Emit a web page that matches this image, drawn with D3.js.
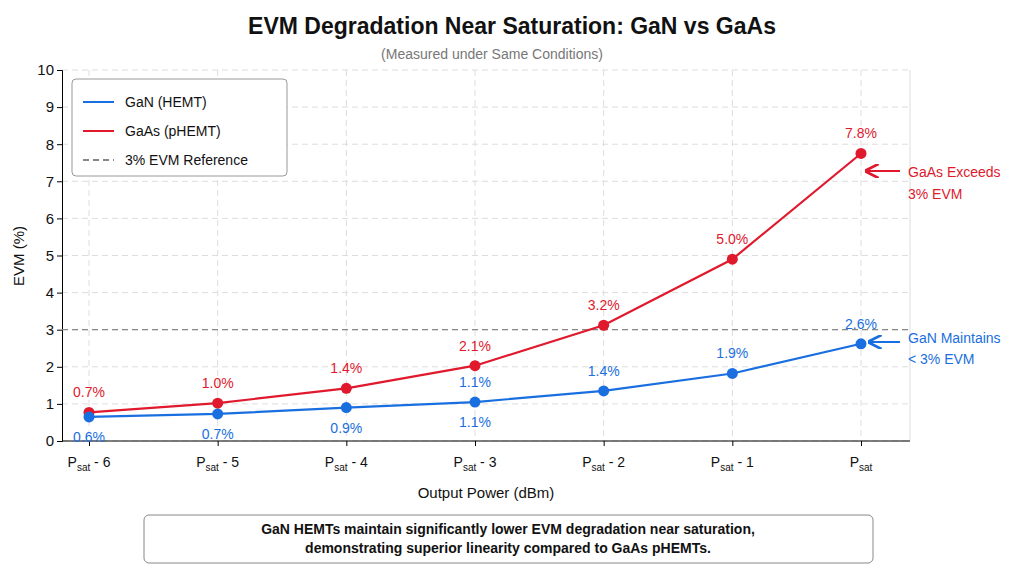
<!DOCTYPE html><html><head><meta charset="utf-8"><script src="https://cdn.jsdelivr.net/npm/d3@7"></script>
<style>body{margin:0;background:#fff;font-family:"Liberation Sans","DejaVu Sans",sans-serif}</style></head><body><svg id="c" width="1024" height="576" font-family="Liberation Sans, DejaVu Sans, sans-serif"></svg><script>
const categories=["-6","-5","-4","-3","-2","-1",""];
const ganValues=[0.65,0.73,0.9,1.05,1.35,1.82,2.62];
const gaasValues=[0.77,1.02,1.42,2.03,3.12,4.9,7.75];
const ganLabels=["0.6%","0.7%","0.9%","1.1%","1.4%","1.9%","2.6%"];
const gaasLabels=["0.7%","1.0%","1.4%","2.1%","3.2%","5.0%","7.8%"];
const yTicks=[0,1,2,3,4,5,6,7,8,9,10];
const blue="#1a6fe0",red="#e0192d";
const svg=d3.select("#c");
const L=62,R=910,T=70,B=441;
const x=d3.scaleLinear().domain([0,6]).range([89,861]);
const y=d3.scaleLinear().domain([0,10]).range([B,T]);
svg.append("text").attr("x",512).attr("y",34).attr("text-anchor","middle").attr("font-size",23).attr("font-weight","bold").attr("fill","#111").text("EVM Degradation Near Saturation: GaN vs GaAs");
svg.append("text").attr("x",492).attr("y",59).attr("text-anchor","middle").attr("font-size",14).attr("fill","#777").text("(Measured under Same Conditions)");
const g=svg.append("g");
yTicks.forEach(t=>g.append("line").attr("x1",L).attr("x2",R).attr("y1",y(t)).attr("y2",y(t)).attr("stroke","#ddd").attr("stroke-dasharray","6,4"));
categories.forEach((c,i)=>g.append("line").attr("x1",x(i)).attr("x2",x(i)).attr("y1",T).attr("y2",B).attr("stroke","#ddd").attr("stroke-dasharray","6,4"));
g.append("line").attr("x1",R).attr("x2",R).attr("y1",T).attr("y2",B).attr("stroke","#ddd");
const ya=g.append("g").attr("transform",`translate(${L},0)`).call(d3.axisLeft(y).tickValues(yTicks).tickSize(5));
ya.selectAll("text").attr("font-size",15).attr("fill","#111").attr("font-family","Liberation Sans, sans-serif");
const xa=g.append("g").attr("transform",`translate(0,${B})`).call(d3.axisBottom(x).tickValues(d3.range(7)).tickSize(5).tickFormat(""));
xa.select(".domain").attr("d",`M${L},0H${R}`);
categories.forEach((c,i)=>{const t=g.append("text").attr("x",x(i)).attr("y",B+26).attr("text-anchor","middle").attr("font-size",14).attr("fill","#111");
t.append("tspan").text("P");t.append("tspan").attr("font-size",10).attr("dy",4).text("sat");
if(c)t.append("tspan").attr("dy",-4).text(" "+c.replace("-","- "));});
svg.append("text").attr("x",486).attr("y",498).attr("text-anchor","middle").attr("font-size",15).attr("fill","#111").text("Output Power (dBm)");
svg.append("text").attr("transform","translate(24,256) rotate(-90)").attr("text-anchor","middle").attr("font-size",15).attr("fill","#111").text("EVM (%)");
g.append("line").attr("x1",L).attr("x2",R).attr("y1",y(3)).attr("y2",y(3)).attr("stroke","#888").attr("stroke-dasharray","6,4").attr("stroke-width",1.3);
const line=d3.line().x((d,i)=>x(i)).y(d=>y(d));
[[gaasValues,red],[ganValues,blue]].forEach(([v,col])=>{
g.append("path").attr("d",line(v)).attr("fill","none").attr("stroke",col).attr("stroke-width",2.2);
v.forEach((d,i)=>g.append("circle").attr("cx",x(i)).attr("cy",y(d)).attr("r",5.5).attr("fill",col));});
gaasValues.forEach((d,i)=>g.append("text").attr("x",x(i)).attr("y",y(d)-15).attr("text-anchor","middle").attr("font-size",14).attr("fill",red).text(gaasLabels[i]));
ganValues.forEach((d,i)=>{
 const ys=i<3?[y(d)+25]:i===3?[y(d)-15,y(d)+25]:[y(d)-15];
 ys.forEach(yy=>g.append("text").attr("x",x(i)).attr("y",yy).attr("text-anchor","middle").attr("font-size",14).attr("fill",blue).text(ganLabels[i]));});
svg.append("defs").html(`<marker id="ar" viewBox="0 0 10 10" refX="9" refY="5" markerWidth="7" markerHeight="7" orient="auto"><path d="M0,0L10,5L0,10" fill="none" stroke="context-stroke" stroke-width="2"/></marker>`);
svg.append("line").attr("x1",900).attr("x2",866).attr("y1",171).attr("y2",171).attr("stroke",red).attr("stroke-width",2).attr("marker-end","url(#ar)");
svg.append("line").attr("x1",900).attr("x2",869).attr("y1",342).attr("y2",342).attr("stroke",blue).attr("stroke-width",2).attr("marker-end","url(#ar)");
[["GaAs Exceeds",177,red],["3% EVM",199,red],["GaN Maintains",343,blue],["< 3% EVM",364,blue]].forEach(([t,yy,c])=>svg.append("text").attr("x",908).attr("y",yy).attr("font-size",14).attr("fill",c).text(t));
const lg=svg.append("g");
lg.append("rect").attr("x",72).attr("y",79).attr("width",215).attr("height",97).attr("rx",4).attr("fill","#fff").attr("stroke","#999");
[["GaN (HEMT)",blue,null],["GaAs (pHEMT)",red,null],["3% EVM Reference","#888","6,4"]].forEach(([t,c,d],i)=>{const yy=102+i*29;
lg.append("line").attr("x1",83).attr("x2",114).attr("y1",yy).attr("y2",yy).attr("stroke",c).attr("stroke-width",2).attr("stroke-dasharray",d);
lg.append("text").attr("x",125).attr("y",yy+5).attr("font-size",14).attr("fill","#111").text(t);});
svg.append("rect").attr("x",144).attr("y",515).attr("width",729).attr("height",48).attr("rx",5).attr("fill","#fff").attr("stroke","#888");
["GaN HEMTs maintain significantly lower EVM degradation near saturation,","demonstrating superior linearity compared to GaAs pHEMTs."].forEach((t,i)=>svg.append("text").attr("x",508).attr("y",534+i*19).attr("text-anchor","middle").attr("font-size",14).attr("font-weight","bold").attr("fill","#111").text(t));
</script></body></html>
